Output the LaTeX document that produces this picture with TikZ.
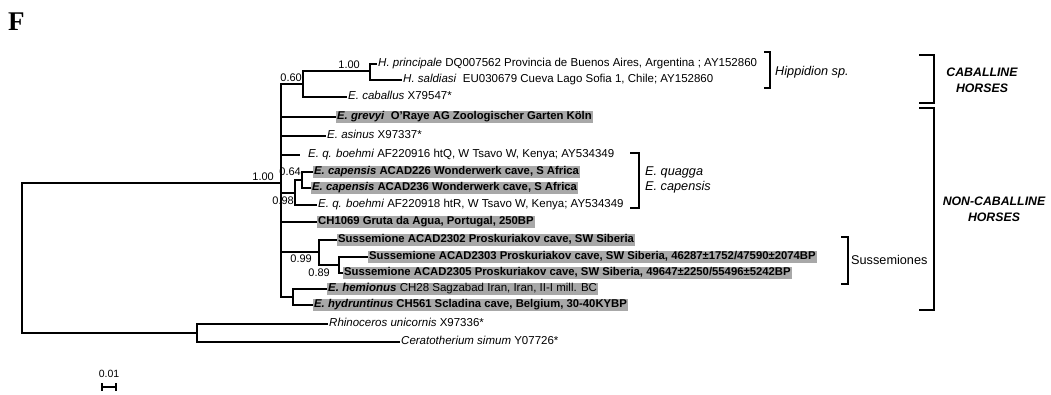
\documentclass[tikz,border=0pt]{standalone}
\usepackage{fontspec}
\setmainfont{Liberation Sans}
\newfontfamily\timesfont{Liberation Serif}
\usepackage{tikz}

\definecolor{hlgrey}{RGB}{168,168,168}

\tikzset{
  branch/.style={line width=2.4pt},
  leaf/.style={anchor=west, inner xsep=1pt, inner ysep=1.2pt, text height=8pt, text depth=2.5pt},
  hilite/.style={leaf, fill=hlgrey, font=\fontsize{11.3}{13}\selectfont\bfseries},
  support/.style={font=\fontsize{11}{13}\selectfont},
  cladetext/.style={anchor=west, font=\fontsize{12.7}{15}\selectfont},
  grouptext/.style={align=center, font=\fontsize{12.3}{16}\selectfont\bfseries\itshape},
  groupbr/.style={line width=2.4pt}
}

\begin{document}
\begin{tikzpicture}[x=1pt,y=1pt]
\tikzstyle{every node}+=[inner sep=0pt, font=\fontsize{11.5}{13}\selectfont]
\useasboundingbox (0,0) rectangle (1051,-395);

\node[anchor=north west, font=\fontsize{27}{30}\selectfont\timesfont\bfseries] (flab) at (8,-13) {F};

% internal nodes of the tree
\coordinate (root) at (22,-258);
\coordinate (eq) at (281,-183);
\coordinate (p60) at (303,-84);
\coordinate (hip) at (370,-71);
\coordinate (p98) at (295,-193);
\coordinate (p64) at (302,-180);
\coordinate (p99) at (319,-252);
\coordinate (p89) at (339,-265);
\coordinate (hh) at (293,-297);
\coordinate (rh) at (197,-333);

% support values
\node[support, anchor=south east] (b100h) at (360,-69) {1.00};
\node[support, anchor=south east] (b060) at (302,-82) {0.60};
\node[support, anchor=south east] (b100e) at (274,-181) {1.00};
\node[support, anchor=south east] (b064) at (301,-176) {0.64};
\node[support, anchor=north east] (b098) at (294,-197) {0.98};
\node[support, anchor=north east] (b099) at (312,-255) {0.99};
\node[support, anchor=north east] (b089) at (330,-269) {0.89};

% leaves
\node[leaf] (hprin) at (377,-64) {\textit{H. principale} DQ007562 Provincia de Buenos Aires, Argentina ; AY152860};
\node[leaf] (hsald) at (402,-80) {\textit{H. saldiasi}\ \ EU030679 Cueva Lago Sofia 1, Chile; AY152860};
\node[leaf] (ecab) at (347,-97) {\textit{E. caballus} X79547*};
\node[hilite] (egrev) at (336,-117) {\textit{E. grevyi}\ \ O’Raye AG Zoologischer Garten Köln};
\node[leaf] (easin) at (326,-136) {\textit{E. asinus} X97337*};
\node[leaf] (eqbq) at (307,-155) {\textit{E. q. boehmi} AF220916 htQ, W Tsavo W, Kenya; AY534349};
\node[hilite] (ecapa) at (313,-172) {\textit{E. capensis} ACAD226 Wonderwerk cave, S Africa};
\node[hilite] (ecapb) at (311,-188) {\textit{E. capensis} ACAD236 Wonderwerk cave, S Africa};
\node[leaf] (eqbr) at (317,-205) {\textit{E. q. boehmi} AF220918 htR, W Tsavo W, Kenya; AY534349};
\node[hilite] (gruta) at (317,-222) {CH1069 Gruta da Agua, Portugal, 250BP};
\node[hilite] (susa) at (337,-240) {Sussemione ACAD2302 Proskuriakov cave, SW Siberia};
\node[hilite] (susb) at (368,-257) {Sussemione ACAD2303 Proskuriakov cave, SW Siberia, 46287±1752/47590±2074BP};
\node[hilite] (susc) at (343,-273) {Sussemione ACAD2305 Proskuriakov cave, SW Siberia, 49647±2250/55496±5242BP};
\node[leaf, fill=hlgrey] (ehem) at (327,-289) {\textbf{\textit{E. hemionus}} CH28 Sagzabad Iran, Iran, II-I mill. BC};
\node[hilite] (ehyd) at (313,-305) {\textit{E. hydruntinus} CH561 Scladina cave, Belgium, 30-40KYBP};
\node[leaf] (rhuni) at (328,-324) {\textit{Rhinoceros unicornis} X97336*};
\node[leaf] (cesim) at (400,-342) {\textit{Ceratotherium simum} Y07726*};

% branches
\draw [black, branch] (root) |- (eq);
\draw [black, branch] (root) |- (rh);
\draw [black, branch] (eq) |- (p60);
\draw [black, branch] (eq) |- (egrev.west);
\draw [black, branch] (eq) |- (easin.west);
\draw [black, branch, shorten >=7pt] (eq) |- (eqbq.west);
\draw [black, branch] (eq) |- (p98);
\draw [black, branch] (eq) |- (gruta.west);
\draw [black, branch] (eq) |- (p99);
\draw [black, branch] (eq) |- (hh);
\draw [black, branch] (p60) |- (hip);
\draw [black, branch] (p60) |- (ecab.west);
\draw [black, branch] (hip) |- (hprin.west);
\draw [black, branch] (hip) |- (hsald.west);
\draw [black, branch] (p98) |- (p64);
\draw [black, branch] (p98) |- (eqbr.west);
\draw [black, branch] (p64) |- (ecapa.west);
\draw [black, branch] (p64) |- (ecapb.west);
\draw [black, branch] (p99) |- (susa.west);
\draw [black, branch] (p99) |- (p89);
\draw [black, branch] (p89) |- (susb.west);
\draw [black, branch] (p89) |- (susc.west);
\draw [black, branch] (hh) |- (ehem.west);
\draw [black, branch] (hh) |- (ehyd.west);
\draw [black, branch] (rh) |- (rhuni.west);
\draw [black, branch] (rh) |- (cesim.west);

% clade brackets
\draw [black, groupbr] (764,-52) -- (770,-52) -- (770,-88) -- (764,-88);
\node[cladetext] (hipp) at (775,-72) {\textit{Hippidion sp.}};
\draw [black, groupbr] (630,-153) -- (639,-153) -- (639,-208) -- (630,-208);
\node[cladetext, align=left] (quag) at (645,-180) {\textit{E. quagga}\\\textit{E. capensis}};
\draw [black, groupbr] (841,-237) -- (848,-237) -- (848,-284) -- (841,-284);
\node[cladetext] (suss) at (851,-260) {Sussemiones};
\draw [black, groupbr] (919,-55) -- (934,-55) -- (934,-103) -- (919,-103);
\node[grouptext] (cabh) at (982,-80) {CABALLINE\\HORSES};
\draw [black, groupbr] (919,-108) -- (934,-108) -- (934,-310) -- (919,-310);
\node[grouptext] (ncabh) at (994,-209) {NON-CABALLINE\\HORSES};

% scale bar
\node[font=\fontsize{10.5}{12}\selectfont] (sclab) at (109,-374) {0.01};
\coordinate (scl) at (102,-387);
\coordinate (scr) at (116,-387);
\draw [black, line width=2.2pt] (scl) -- (scr);
\draw [black, line width=1.8pt] ([yshift=4pt]scl) -- ([yshift=-4pt]scl);
\draw [black, line width=1.8pt] ([yshift=4pt]scr) -- ([yshift=-4pt]scr);
\end{tikzpicture}
\end{document}
